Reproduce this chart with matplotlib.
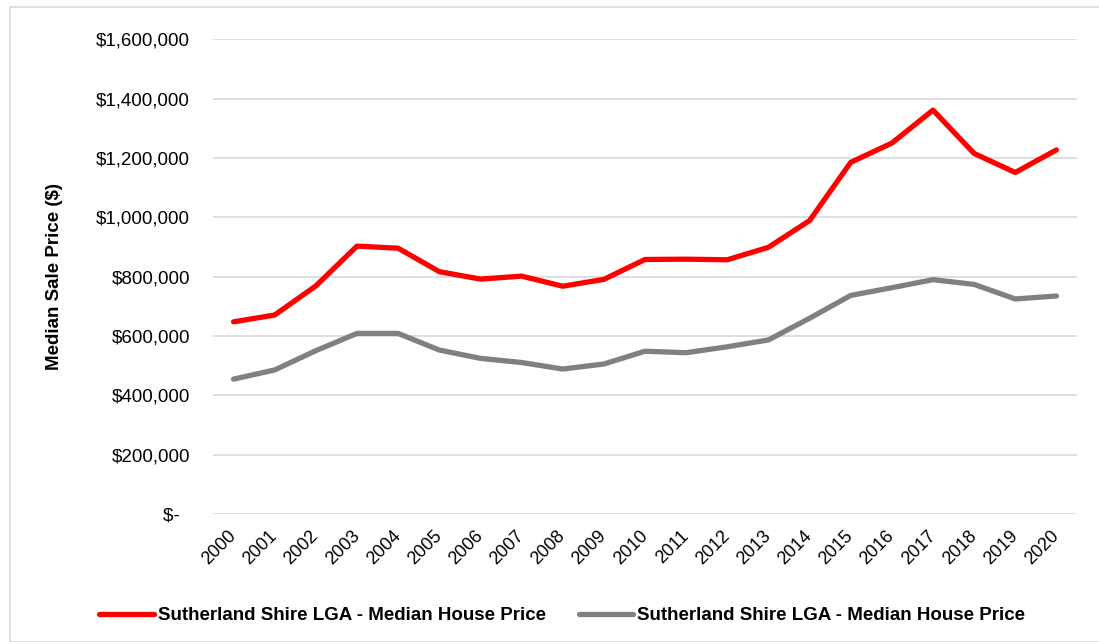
import matplotlib.pyplot as plt
from matplotlib.patches import Rectangle
from matplotlib.ticker import FuncFormatter

plt.rcParams['font.family'] = ['Liberation Sans', 'DejaVu Sans']

years = [str(y) for y in range(2000, 2021)]
red_prices = [648000, 671000, 769000, 903000, 896000, 817000, 792000, 802000, 768000, 791000,
              858000, 859000, 857000, 899000, 989000, 1185000, 1250000, 1361000, 1215000, 1151000, 1227000]
grey_prices = [455000, 486000, 551000, 609000, 609000, 553000, 525000, 511000, 489000, 506000,
               549000, 544000, 564000, 587000, 660000, 737000, 763000, 790000, 774000, 725000, 735000]
series_label = "Sutherland Shire LGA - Median House Price"

fig = plt.figure(figsize=(10.99, 6.42), dpi=100)
ax = fig.add_axes([213 / 1099, 0.199, 864 / 1099, 0.740])

x = range(len(years))
ax.plot(x, red_prices, color='#FF0000', lw=3.8, label=series_label, solid_capstyle='round', zorder=3)
ax.plot(x, grey_prices, color='#808080', lw=3.8, label=series_label, solid_capstyle='round', zorder=3)

ax.set_xlim(-0.5, len(years) - 0.5)
ax.set_ylim(0, 1600000)
ax.set_yticks(range(0, 1600001, 200000))


def money(v, pos):
    if v == 0:
        return '$-  '
    return '${:,.0f}'.format(v)


ax.yaxis.set_major_formatter(FuncFormatter(money))
ax.set_xticks(list(x))
ax.set_xticklabels(years, rotation=45, ha='right', va='center', rotation_mode='anchor')
ax.tick_params(axis='y', length=0, pad=16.5, labelsize=13.5)
ax.tick_params(axis='x', length=0, pad=14, labelsize=13)
ax.grid(axis='y', color='#D9D9D9', lw=1.2)
ax.set_axisbelow(True)
for s in ax.spines.values():
    s.set_visible(False)

ax.set_ylabel('Median Sale Price ($)', fontsize=13.5, fontweight='bold')
ax.yaxis.set_label_coords(-0.174, 0.5)

fig.legend(loc='center', bbox_to_anchor=(0.5114, 0.041), ncol=2, frameon=False,
           prop={'size': 13.5, 'weight': 'bold'}, handlelength=2.93, handletextpad=0.2,
           columnspacing=1.76)

fig.patches.append(Rectangle((10 / 1099, 0), 1.5, 1 - 7 / 642, transform=fig.transFigure,
                             fill=False, edgecolor='#D9D9D9', lw=1.2))

fig.savefig('out.png', dpi=100)
